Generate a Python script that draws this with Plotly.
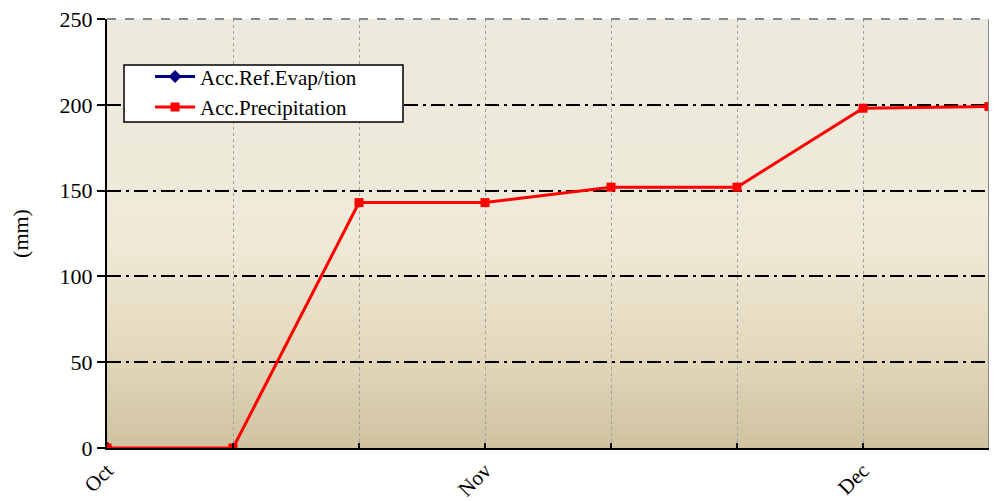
import plotly.graph_objects as go

# ---- data ----
x_idx = [0, 1, 2, 3, 4, 5, 6, 7]
tick_labels = ["Oct", "", "", "Nov", "", "", "Dec", ""]
acc_ref_evap = [0, None, None, None, None, None, None, None]
acc_precip = [0, 0, 143, 143, 152, 152, 198, 199]

FONT = "Liberation Serif, DejaVu Serif, serif"

fig = go.Figure()
fig.add_trace(go.Scatter(
    x=x_idx, y=acc_ref_evap, name="Acc.Ref.Evap/tion", mode="lines+markers",
    line=dict(color="#000080", width=3),
    marker=dict(symbol="diamond", size=10, color="#000080"),
))
fig.add_trace(go.Scatter(
    x=x_idx, y=acc_precip, name="Acc.Precipitation", mode="lines+markers",
    line=dict(color="#FF0000", width=3),
    marker=dict(symbol="square", size=9, color="#FF0000"),
))

# background gradient (plot area) built from overlapping horizontal bands
stops = [(250, (236, 233, 222)), (125, (239, 234, 216)), (60, (228, 218, 190)), (0, (207, 194, 160))]
def col_at(v):
    for (v1, c1), (v2, c2) in zip(stops[:-1], stops[1:]):
        if v2 <= v <= v1:
            t = (v1 - v) / (v1 - v2)
            return "rgb(%d,%d,%d)" % tuple(round(a + (b - a) * t) for a, b in zip(c1, c2))
    return "rgb(%d,%d,%d)" % stops[-1][1]

shapes = []
n = 100
step = 250 / n
for i in range(n):
    y0 = step * i
    y1 = min(250, step * (i + 1) + step)
    shapes.append(dict(type="rect", xref="x", yref="y", x0=0, x1=7, y0=y0, y1=y1,
                       fillcolor=col_at(y0 + step / 2), line=dict(width=0), layer="below"))
# top & right borders (gray)
shapes.append(dict(type="line", xref="paper", yref="paper", x0=0, x1=1, y0=1, y1=1,
                   line=dict(color="#888888", width=2, dash="dash")))
shapes.append(dict(type="line", xref="paper", yref="paper", x0=1, x1=1, y0=0, y1=1,
                   line=dict(color="#888888", width=2)))
# legend frame
shapes.append(dict(type="rect", xref="paper", yref="paper", x0=0.0193, x1=0.3356, y0=0.7599, y1=0.8928,
                   fillcolor="white", line=dict(color="black", width=1.5), layer="above"))

fig.update_layout(
    width=989, height=493,
    margin=dict(l=99, r=8, t=11, b=53),
    paper_bgcolor="white", plot_bgcolor="rgba(0,0,0,0)",
    font=dict(family=FONT, color="black", size=22),
    shapes=shapes,
    showlegend=True,
    legend=dict(
        x=0.0488, y=0.83, xanchor="left", yanchor="middle",
        bgcolor="rgba(0,0,0,0)", borderwidth=0,
        font=dict(family=FONT, size=21, color="black"),
        tracegroupgap=0, itemwidth=40,
    ),
    xaxis=dict(
        range=[0, 7], tickmode="array", tickvals=x_idx, ticktext=tick_labels,
        tickangle=-45, ticks="inside", ticklen=5, tickcolor="black", tickwidth=2,
        showline=True, linecolor="black", linewidth=2,
        showgrid=True, gridcolor="#A0A0A0", griddash="dot", gridwidth=1,
        zeroline=False, tickfont=dict(size=21, family=FONT), automargin=False,
    ),
    yaxis=dict(
        range=[0, 250], tickvals=[0, 50, 100, 150, 200, 250],
        ticks="outside", ticklen=8, tickcolor="black", tickwidth=2,
        showline=True, linecolor="black", linewidth=2,
        showgrid=True, gridcolor="black", griddash="14px,5px,3px,5px", gridwidth=1.5,
        zeroline=False, tickfont=dict(size=22, family=FONT), automargin=False,
        ticklabeloverflow="allow",
        title=dict(text="(mm)", font=dict(size=22, family=FONT), standoff=26),
    ),
)

fig.write_html("out.html")
